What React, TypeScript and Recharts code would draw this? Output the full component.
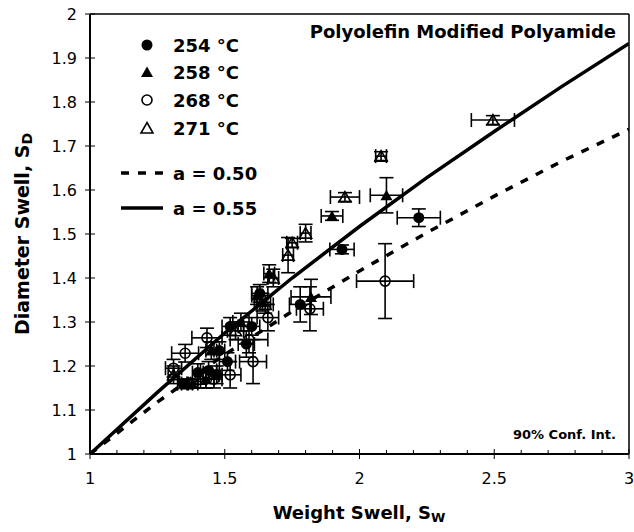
import React from "react";
import { ScatterChart, Scatter, XAxis, YAxis, ErrorBar, ReferenceLine } from "recharts";

const FONT = '"DejaVu Sans", "Liberation Sans", sans-serif';

// axis ticks
const xTicks = [1, 1.1, 1.2, 1.3, 1.4, 1.5, 1.6, 1.7, 1.8, 1.9, 2, 2.1, 2.2, 2.3, 2.4, 2.5, 2.6, 2.7, 2.8, 2.9, 3];
const xMajor = [1, 1.5, 2, 2.5, 3];
const yTicks = [1, 1.1, 1.2, 1.3, 1.4, 1.5, 1.6, 1.7, 1.8, 1.9, 2];

// 254 °C
const sw254 = [2.22, 1.935, 1.78, 1.63, 1.6, 1.52, 1.48, 1.44, 1.4, 1.345, 1.51, 1.58, 1.47];
const sd254 = [1.537, 1.465, 1.34, 1.365, 1.29, 1.29, 1.235, 1.19, 1.185, 1.16, 1.21, 1.25, 1.18];
const ex254 = [0.08, 0.045, 0.04, 0.03, 0.03, 0.03, 0.02, 0.03, 0.02, 0.02, 0.03, 0.03, 0.02];
const ey254 = [0.02, 0.01, 0.04, 0.02, 0.02, 0.02, 0.02, 0.02, 0.02, 0.01, 0.02, 0.03, 0.02];

// 258 °C
const sw258 = [2.1, 1.898, 1.82, 1.665, 1.64, 1.56, 1.45, 1.38, 1.43, 1.62];
const sd258 = [1.588, 1.541, 1.357, 1.41, 1.345, 1.3, 1.235, 1.16, 1.17, 1.36];
const ex258 = [0.06, 0.04, 0.074, 0.02, 0.03, 0.03, 0.02, 0.02, 0.03, 0.02];
const ey258 = [0.04, 0.01, 0.04, 0.02, 0.02, 0.02, 0.02, 0.01, 0.02, 0.02];

// 268 °C
const sw268 = [2.095, 1.816, 1.605, 1.52, 1.434, 1.353, 1.31, 1.59, 1.66, 1.46];
const sd268 = [1.393, 1.33, 1.21, 1.18, 1.264, 1.229, 1.195, 1.26, 1.31, 1.17];
const ex268 = [0.106, 0.05, 0.05, 0.04, 0.056, 0.05, 0.03, 0.07, 0.04, 0.03];
const ey268 = [0.085, 0.05, 0.05, 0.03, 0.022, 0.02, 0.02, 0.03, 0.03, 0.02];

// 271 °C
const sw271 = [2.495, 2.08, 1.946, 1.8, 1.75, 1.735, 1.68, 1.65, 1.54, 1.41, 1.36, 1.31];
const sd271 = [1.759, 1.677, 1.584, 1.502, 1.48, 1.452, 1.4, 1.34, 1.28, 1.17, 1.16, 1.18];
const ex271 = [0.08, 0.02, 0.054, 0.02, 0.02, 0.02, 0.02, 0.03, 0.03, 0.02, 0.02, 0.02];
const ey271 = [0.01, 0.01, 0.01, 0.02, 0.01, 0.04, 0.02, 0.02, 0.02, 0.02, 0.01, 0.02];

// fitted curves
const fitSw = [1, 1.25, 1.5, 1.75, 2, 2.25, 2.5, 2.75, 3];
const fit050 = [1, 1.118, 1.226, 1.324, 1.416, 1.503, 1.586, 1.665, 1.738];
const fit055 = [1, 1.14, 1.275, 1.4, 1.517, 1.628, 1.733, 1.835, 1.933];

const legendLabels = ["254 °C", "258 °C", "268 °C", "271 °C"];

const mk = (xs: number[], ys: number[], exs: number[], eys: number[]) =>
  xs.map((x, i) => ({ sw: x, sd: ys[i], ex: exs[i], ey: eys[i] }));
const line = (xs: number[], ys: number[]) => xs.map((x, i) => ({ sw: x, sd: ys[i] }));

const FilledCircle = ({ cx, cy }: any) => <circle cx={cx} cy={cy} r={5.5} fill="#000" />;
const OpenCircle = ({ cx, cy }: any) => (
  <circle cx={cx} cy={cy} r={5} fill="none" stroke="#000" strokeWidth={1.6} />
);
const tri = (cx: number, cy: number) =>
  `${cx},${cy - 5.5} ${cx + 6},${cy + 5} ${cx - 6},${cy + 5}`;
const FilledTri = ({ cx, cy }: any) => <polygon points={tri(cx, cy)} fill="#000" />;
const OpenTri = ({ cx, cy }: any) => (
  <polygon points={tri(cx, cy)} fill="none" stroke="#000" strokeWidth={1.6} />
);
const NoShape = () => <g />;

const XTick = ({ x, y, payload }: any) => {
  const v = payload.value;
  const ay = y - 13;
  const major = xMajor.includes(v);
  return (
    <g>
      {major ? (
        <line x1={x} x2={x} y1={ay - 5} y2={ay + 5} stroke="#000" />
      ) : (
        <line x1={x} x2={x} y1={ay - 4} y2={ay} stroke="#000" />
      )}
      {major && (
        <text x={x} y={ay + 30} textAnchor="middle" fontSize={16} fontFamily={FONT} fill="#000">
          {String(v)}
        </text>
      )}
    </g>
  );
};

const YTick = ({ x, y, payload }: any) => {
  const ax = x + 13;
  return (
    <g>
      <line x1={ax - 5} x2={ax + 5} y1={y} y2={y} stroke="#000" />
      <text x={ax - 13} y={y + 6} textAnchor="end" fontSize={16} fontFamily={FONT} fill="#000">
        {String(payload.value)}
      </text>
    </g>
  );
};

const bars = (w = 7) => [
  <ErrorBar key="x" dataKey="ex" direction="x" width={w} stroke="#000" strokeWidth={1.6} />,
  <ErrorBar key="y" dataKey="ey" direction="y" width={w} stroke="#000" strokeWidth={1.6} />,
];

const legendShapes = [
  <circle cx={147} cy={45} r={5.5} fill="#000" />,
  <polygon points={tri(147, 72)} fill="#000" />,
  <circle cx={147} cy={100} r={5} fill="none" stroke="#000" strokeWidth={1.6} />,
  <polygon points={tri(147, 128)} fill="none" stroke="#000" strokeWidth={1.6} />,
];

export default function App() {
  return (
    <div style={{ position: "fixed", left: 0, top: 0, width: 634, height: 532, background: "#fff" }}>
      <ScatterChart width={634} height={532} margin={{ top: 14, right: 5, left: 0, bottom: 0 }}>
        <XAxis
          type="number"
          dataKey="sw"
          domain={[1, 3]}
          ticks={xTicks}
          interval={0}
          tick={<XTick />}
          tickLine={false}
          tickSize={5}
          tickMargin={8}
          height={78}
          axisLine={{ stroke: "#000", strokeWidth: 2 }}
          allowDataOverflow
        />
        <YAxis
          type="number"
          dataKey="sd"
          domain={[1, 2]}
          ticks={yTicks}
          interval={0}
          tick={<YTick />}
          tickLine={false}
          tickSize={5}
          tickMargin={8}
          width={90}
          axisLine={{ stroke: "#000", strokeWidth: 2 }}
          allowDataOverflow
        />
        <ReferenceLine y={2} stroke="#000" strokeWidth={1.5} />
        <ReferenceLine x={3} stroke="#000" strokeWidth={1.5} />
        <Scatter
          data={line(fitSw, fit050)}
          line={{ stroke: "#000", strokeWidth: 3.5, strokeDasharray: "8 9" }}
          lineType="joint"
          shape={<NoShape />}
          isAnimationActive={false}
        />
        <Scatter
          data={line(fitSw, fit055)}
          line={{ stroke: "#000", strokeWidth: 3.5 }}
          lineType="joint"
          shape={<NoShape />}
          isAnimationActive={false}
        />
        <Scatter data={mk(sw268, sd268, ex268, ey268)} shape={<OpenCircle />} isAnimationActive={false}>
          {bars()}
        </Scatter>
        <Scatter data={mk(sw271, sd271, ex271, ey271)} shape={<OpenTri />} isAnimationActive={false}>
          {bars()}
        </Scatter>
        <Scatter data={mk(sw254, sd254, ex254, ey254)} shape={<FilledCircle />} isAnimationActive={false}>
          {bars()}
        </Scatter>
        <Scatter data={mk(sw258, sd258, ex258, ey258)} shape={<FilledTri />} isAnimationActive={false}>
          {bars()}
        </Scatter>
      </ScatterChart>
      <svg
        width={634}
        height={532}
        style={{ position: "absolute", left: 0, top: 0, pointerEvents: "none" }}
        fontFamily={FONT}
      >
        {legendLabels.map((t, i) => (
          <g key={t}>
            {legendShapes[i]}
            <text x={173} y={[45, 72, 100, 128][i] + 6.5} fontSize={18} fontWeight="bold">
              {t}
            </text>
          </g>
        ))}
        <line x1={121} x2={163} y1={173} y2={173} stroke="#000" strokeWidth={3.5} strokeDasharray="8 9" />
        <text x={173} y={179.5} fontSize={18} fontWeight="bold">a = 0.50</text>
        <line x1={121} x2={163} y1={208} y2={208} stroke="#000" strokeWidth={3.5} />
        <text x={173} y={214.5} fontSize={18} fontWeight="bold">a = 0.55</text>
        <text x={616} y={38} fontSize={18} fontWeight="bold" textAnchor="end">
          Polyolefin Modified Polyamide
        </text>
        <text x={616} y={439} fontSize={13} fontWeight="bold" textAnchor="end">
          90% Conf. Int.
        </text>
        <text x={359} y={519} fontSize={18} fontWeight="bold" textAnchor="middle">
          Weight Swell, S<tspan fontSize={13} dy={3}>W</tspan>
        </text>
        <text
          transform="translate(29,234) rotate(-90)"
          fontSize={19}
          fontWeight="bold"
          textAnchor="middle"
        >
          Diameter Swell, S<tspan fontSize={14} dy={3}>D</tspan>
        </text>
      </svg>
    </div>
  );
}
